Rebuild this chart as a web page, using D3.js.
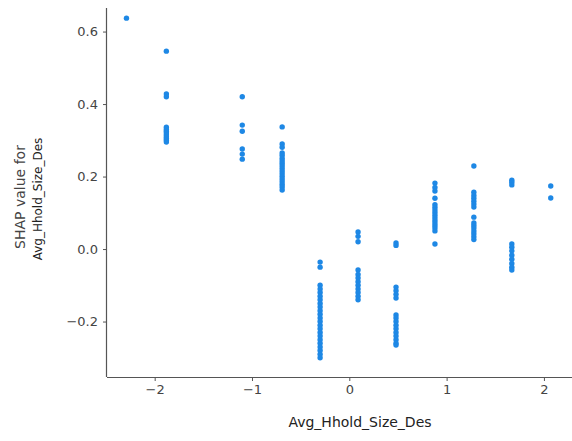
<!DOCTYPE html>
<html>
<head>
<meta charset="utf-8">
<script src="https://cdn.jsdelivr.net/npm/d3@7"></script>
<style>
  html, body { margin: 0; padding: 0; background: #fff; }
  svg { display: block; }
  text { font-family: "DejaVu Sans", sans-serif; }
</style>
</head>
<body>
<svg id="chart" width="572" height="441"></svg>
<script>
// Feature value of each vertical group
const featureValues = [-2.29, -1.88, -1.1, -0.69, -0.3, 0.09, 0.48, 0.88, 1.28, 1.67, 2.07];
// SHAP values observed in each group
const shapValues = [
  [0.637],
  [0.546, 0.428, 0.42, 0.336, 0.33, 0.325, 0.32, 0.315, 0.31, 0.305, 0.30, 0.295],
  [0.42, 0.342, 0.325, 0.276, 0.262, 0.248],
  [0.337, 0.29, 0.281, 0.265, 0.258, 0.25, 0.243, 0.236, 0.229, 0.222, 0.215, 0.208, 0.2, 0.193, 0.186, 0.178, 0.171, 0.163],
  [-0.036, -0.05, -0.1, -0.11, -0.12, -0.13, -0.14, -0.15, -0.16, -0.17, -0.18, -0.19, -0.2, -0.21, -0.22, -0.23, -0.24, -0.25, -0.26, -0.27, -0.28, -0.29, -0.30],
  [0.047, 0.035, 0.02, -0.058, -0.07, -0.08, -0.09, -0.1, -0.11, -0.12, -0.13, -0.14],
  [0.017, 0.01, -0.105, -0.115, -0.125, -0.135, -0.182, -0.19, -0.2, -0.21, -0.22, -0.23, -0.24, -0.25, -0.26, -0.265],
  [0.182, 0.17, 0.16, 0.14, 0.122, 0.115, 0.108, 0.1, 0.093, 0.086, 0.079, 0.072, 0.065, 0.058, 0.05, 0.014],
  [0.229, 0.157, 0.148, 0.14, 0.132, 0.124, 0.116, 0.088, 0.072, 0.065, 0.058, 0.05, 0.042, 0.034, 0.026],
  [0.19, 0.184, 0.177, 0.014, 0.005, -0.005, -0.017, -0.028, -0.04, -0.05, -0.058],
  [0.174, 0.141]
];
const xTicks = [-2, -1, 0, 1, 2];
const yTicks = [-0.2, 0.0, 0.2, 0.4, 0.6];
const featureName = "Avg_Hhold_Size_Des";

const points = [];
featureValues.forEach((fx, i) => shapValues[i].forEach(v => points.push({x: fx, y: v})));

const svg = d3.select("#chart");
const plotLeft = 107, plotRight = 614, plotTop = 8, plotBottom = 377;

const x = d3.scaleLinear().domain([-2.49, 2.72]).range([plotLeft, plotRight]);
const y = d3.scaleLinear().domain([-0.353, 0.665]).range([plotBottom, plotTop]);

const axisColor = "#555";
const tickTextColor = "#444";

// points
svg.append("g").selectAll("circle").data(points).enter().append("circle")
  .attr("cx", d => x(d.x))
  .attr("cy", d => y(d.y))
  .attr("r", 2.7)
  .attr("fill", "#1E88E5");

// x axis
const xAxis = svg.append("g").attr("transform", `translate(0,${plotBottom})`)
  .call(d3.axisBottom(x).tickValues(xTicks).tickSize(4).tickPadding(4)
    .tickFormat(d => d3.format("d")(d).replace("-", "\u2212")));
xAxis.select(".domain").attr("stroke", axisColor).attr("stroke-width", 1.2)
  .attr("d", `M${plotLeft},0.5H${plotRight}`);
xAxis.selectAll(".tick line").attr("stroke", axisColor);
xAxis.selectAll(".tick text").attr("fill", tickTextColor).style("font-size", "13px");

// y axis
const yAxis = svg.append("g").attr("transform", `translate(${plotLeft},0)`)
  .call(d3.axisLeft(y).tickValues(yTicks).tickSize(4).tickPadding(5)
    .tickFormat(d => d3.format(".1f")(d).replace("-", "\u2212")));
yAxis.select(".domain").attr("stroke", axisColor).attr("stroke-width", 1.2)
  .attr("d", `M-0.5,${plotTop}V${plotBottom}`);
yAxis.selectAll(".tick line").attr("stroke", axisColor);
yAxis.selectAll(".tick text").attr("fill", tickTextColor).style("font-size", "13px");

// x label
svg.append("text")
  .attr("x", 360).attr("y", 427)
  .attr("text-anchor", "middle")
  .attr("fill", "#222")
  .style("font-size", "14px")
  .text(featureName);

// y label (two lines)
svg.append("text")
  .attr("transform", "translate(25,197) rotate(-90)")
  .attr("text-anchor", "middle")
  .attr("fill", "#444")
  .style("font-size", "14px")
  .text("SHAP value for");
svg.append("text")
  .attr("transform", "translate(42,199) rotate(-90)")
  .attr("text-anchor", "middle")
  .attr("fill", "#222")
  .style("font-size", "12px")
  .text(featureName);
</script>
</body>
</html>
